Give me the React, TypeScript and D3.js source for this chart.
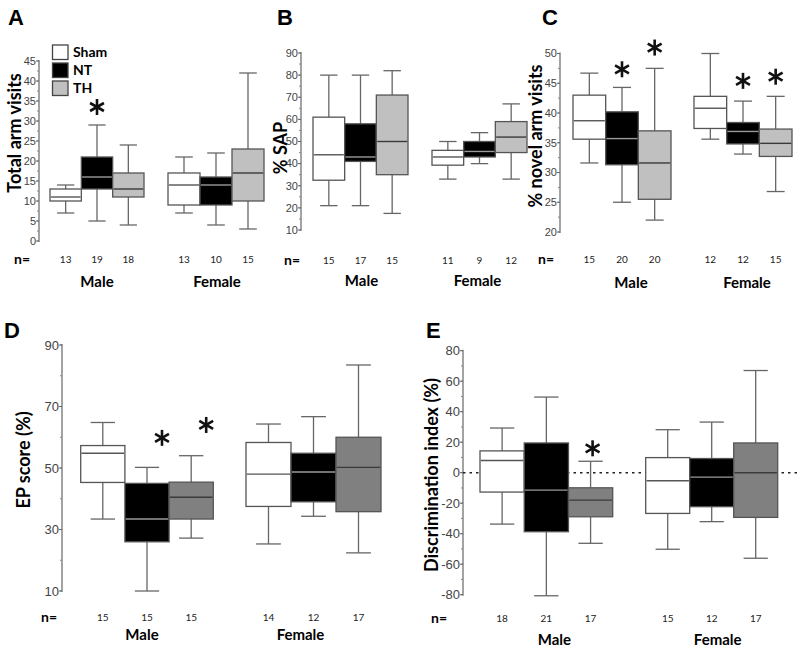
import React from "react";
import * as d3 from "d3";

// ---------- DATA ----------
const conditions = ["Sham", "NT", "TH"];
const sexes = ["Male", "Female"];

// Each row: [low whisker, Q1, median, Q3, high whisker]
// order: Male Sham, Male NT, Male TH, Female Sham, Female NT, Female TH
const armVisits = [
  [7, 10, 11, 13, 14],
  [5, 13, 16, 21, 29],
  [4, 11, 13, 17, 24],
  [7, 9, 14, 17, 21],
  [4, 9, 14, 16, 22],
  [3, 10, 17, 23, 42],
];
const armVisitsN = [13, 19, 18, 13, 10, 15];

const sap = [
  [21, 32.5, 44, 61, 80],
  [21, 41, 43, 58, 80],
  [17.5, 35, 50, 71, 82],
  [33, 39.3, 43, 46, 50],
  [40, 43, 45.5, 50, 54],
  [33, 45, 52, 59, 67],
];
const sapN = [15, 17, 15, 11, 9, 12];

const novel = [
  [31.6, 35.6, 38.7, 43, 46.7],
  [25, 31.3, 35.7, 40.2, 44.3],
  [22, 25.5, 31.6, 37, 47.5],
  [35.6, 37.4, 40.8, 42.8, 50],
  [33.1, 34.8, 36.9, 38.4, 42],
  [26.8, 32.7, 34.9, 37.3, 42.8],
];
const novelN = [15, 20, 20, 12, 12, 15];

const epScore = [
  [33.4, 45.3, 54.8, 57.3, 64.8],
  [10, 26, 33.4, 45, 50.2],
  [27.2, 33.4, 40.5, 45.4, 54],
  [25.3, 37.5, 48, 58.3, 64.3],
  [34.3, 39, 48.7, 54.8, 66.7],
  [22.4, 35.8, 50.2, 60, 83.5],
];
const epScoreN = [15, 15, 15, 14, 12, 17];

const discrimination = [
  [-33.7, -12.7, 8, 14.3, 29.3],
  [-80.7, -38.7, -11.4, 19.5, 49.6],
  [-46.3, -28.9, -18, -9.9, 7.5],
  [-50.2, -26.7, -5.3, 9.9, 28.2],
  [-32.1, -22.3, -2.9, 9.3, 33.2],
  [-56.1, -29.3, 0, 19.5, 67],
];
const discriminationN = [18, 21, 17, 15, 12, 17];

// significance stars: box index and value (data units) where the star sits
const armStars = [{ box: 1, value: 33.5 }];
const sapStars: { box: number; value: number }[] = [];
const novelStars = [
  { box: 1, value: 47.35 },
  { box: 2, value: 51 },
  { box: 4, value: 45.4 },
  { box: 5, value: 46.1 },
];
const epStars = [
  { box: 1, value: 59.8 },
  { box: 2, value: 64 },
];
const discStars = [{ box: 2, value: 16 }];

// ---------- LAYOUT ----------
const panels = [
  {
    letter: "A", letterX: 8, letterY: 25,
    stats: armVisits, n: armVisitsN, stars: armStars, starDx: [0, 0],
    domain: [0, 45], yRange: [241, 61], tickStep: 5, minorStep: 2.5,
    axisX: 39, groupX: [[50, 144], [168, 264]],
    tickSize: 11, thFill: "#c0c0c0",
    ylabel: "Total arm visits", ylabelX: 14, ylabelY: 133, ylabelSize: 18,
    nX: 22, nY: 259, sexY: 287, sexDx: [0, 1],
    zeroLine: false,
  },
  {
    letter: "B", letterX: 277, letterY: 25,
    stats: sap, n: sapN, stars: sapStars, starDx: [0, 0],
    domain: [10, 90], yRange: [230, 53], tickStep: 10, minorStep: 5,
    axisX: 301, groupX: [[313, 408], [432, 527]],
    tickSize: 11, thFill: "#c0c0c0",
    ylabel: "% SAP", ylabelX: 280, ylabelY: 148, ylabelSize: 18,
    nX: 292, nY: 260, sexY: 286, sexDx: [1, -2],
    zeroLine: false,
  },
  {
    letter: "C", letterX: 542, letterY: 25,
    stats: novel, n: novelN, stars: novelStars, starDx: [0, 0],
    domain: [20, 50], yRange: [232, 53.5], tickStep: 5, minorStep: 2.5,
    axisX: 560, groupX: [[573, 671], [694, 792]],
    tickSize: 11, thFill: "#c0c0c0",
    ylabel: "% novel arm visits", ylabelX: 535, ylabelY: 136, ylabelSize: 18,
    nX: 546, nY: 259, sexY: 288, sexDx: [9, 4],
    zeroLine: false,
  },
  {
    letter: "D", letterX: 4, letterY: 338,
    stats: epScore, n: epScoreN, stars: epStars, starDx: [15, 14],
    domain: [10, 90], yRange: [591, 345], tickStep: 20, minorStep: 10,
    axisX: 62, groupX: [[80.7, 213.3], [246, 381]],
    tickSize: 13, thFill: "#808080",
    ylabel: "EP score (%)", ylabelX: 23, ylabelY: 460, ylabelSize: 18,
    nX: 49, nY: 617, sexY: 640, sexDx: [-5, -13],
    zeroLine: false,
  },
  {
    letter: "E", letterX: 426, letterY: 338,
    stats: discrimination, n: discriminationN, stars: discStars, starDx: [2, 2],
    domain: [-80, 80], yRange: [594.7, 350.7], tickStep: 20, minorStep: 10,
    axisX: 463, groupX: [[480, 612.7], [645.7, 777.7]],
    tickSize: 13, thFill: "#808080",
    ylabel: "Discrimination index (%)", ylabelX: 431, ylabelY: 475, ylabelSize: 18,
    nX: 439, nY: 618, sexY: 645, sexDx: [8, 6],
    zeroLine: true,
  },
];

const BOLD = "Lato, 'Open Sans', sans-serif";
const ARIAL = "'Liberation Sans', Arial, sans-serif";

function Star({ x, y }: { x: number; y: number }) {
  const r = 8;
  const angles = [90, 30, -30];
  return (
    <g>
      {angles.map((a) => {
        const rad = (a * Math.PI) / 180;
        return (
          <line
            key={a}
            x1={x - r * Math.cos(rad)}
            y1={y - r * Math.sin(rad)}
            x2={x + r * Math.cos(rad)}
            y2={y + r * Math.sin(rad)}
            stroke="#111"
            strokeWidth={2.6}
          />
        );
      })}
    </g>
  );
}

function Panel({ cfg }: { cfg: any }) {
  const y = d3.scaleLinear().domain(cfg.domain).range(cfg.yRange);
  const ticks = d3.range(cfg.domain[0], cfg.domain[1] + 0.001, cfg.tickStep);
  const minors = d3.range(cfg.domain[0], cfg.domain[1] + 0.001, cfg.minorStep);
  const bands = cfg.groupX.map((r: number[]) =>
    d3.scaleBand().domain(conditions).range(r as [number, number]).padding(0)
  );
  const fills = ["#ffffff", "#000000", cfg.thFill];
  const medColors = ["#555", "#9a9a9a", "#3a3a3a"];
  const boxes = cfg.stats.map((s: number[], i: number) => {
    const g = Math.floor(i / 3);
    const c = i % 3;
    const b = bands[g];
    return { x: b(conditions[c]) as number, w: b.bandwidth(), s, c, g };
  });
  const groupCenter = (g: number) => (cfg.groupX[g][0] + cfg.groupX[g][1]) / 2;
  const [rTop, rBot] = [cfg.yRange[1], cfg.yRange[0]];

  return (
    <g>
      <text x={cfg.letterX} y={cfg.letterY} fontFamily={ARIAL} fontWeight="bold" fontSize={22} fill="#000">
        {cfg.letter}
      </text>
      {/* axis */}
      <line x1={cfg.axisX} x2={cfg.axisX} y1={rTop - 1} y2={rBot + 1} stroke="#666" strokeWidth={1.2} />
      {minors.map((t: number) => (
        <line key={"m" + t} x1={cfg.axisX - 2} x2={cfg.axisX} y1={y(t)} y2={y(t)} stroke="#888" strokeWidth={1} />
      ))}
      {ticks.map((t: number) => (
        <g key={"t" + t}>
          <line x1={cfg.axisX - 3} x2={cfg.axisX} y1={y(t)} y2={y(t)} stroke="#666" strokeWidth={1} />
          <text
            x={cfg.axisX - 3}
            y={y(t)}
            dy="0.35em"
            textAnchor="end"
            fontFamily={ARIAL}
            fontSize={cfg.tickSize}
            fill="#444"
          >
            {t}
          </text>
        </g>
      ))}
      <text
        transform={`translate(${cfg.ylabelX},${cfg.ylabelY}) rotate(-90)`}
        textAnchor="middle"
        dominantBaseline="central"
        fontFamily={BOLD}
        fontWeight="bold"
        fontSize={cfg.ylabelSize}
        fill="#000"
      >
        {cfg.ylabel}
      </text>
      {cfg.zeroLine && (
        <line
          x1={cfg.axisX}
          x2={797}
          y1={y(0)}
          y2={y(0)}
          stroke="#222"
          strokeWidth={1.6}
          strokeDasharray="2.5,4"
        />
      )}
      {/* whiskers */}
      {boxes.map((b: any, i: number) => {
        const cx = b.x + b.w / 2;
        const cw = b.w * 0.55;
        return (
          <g key={"w" + i} stroke="#666" strokeWidth={1.3}>
            <line x1={cx} x2={cx} y1={y(b.s[0])} y2={y(b.s[1])} />
            <line x1={cx} x2={cx} y1={y(b.s[3])} y2={y(b.s[4])} />
            <line x1={cx - cw / 2} x2={cx + cw / 2} y1={y(b.s[0])} y2={y(b.s[0])} />
            <line x1={cx - cw / 2} x2={cx + cw / 2} y1={y(b.s[4])} y2={y(b.s[4])} />
          </g>
        );
      })}
      {/* boxes */}
      {boxes.map((b: any, i: number) => (
        <g key={"b" + i}>
          <rect
            x={b.x}
            y={y(b.s[3])}
            width={b.w}
            height={y(b.s[1]) - y(b.s[3])}
            fill={fills[b.c]}
            stroke="#555"
            strokeWidth={1.3}
          />
          <line
            x1={b.x + 0.8}
            x2={b.x + b.w - 0.8}
            y1={y(b.s[2])}
            y2={y(b.s[2])}
            stroke={medColors[b.c]}
            strokeWidth={1.4}
          />
        </g>
      ))}
      {/* stars */}
      {cfg.stars.map((st: any, i: number) => {
        const b = boxes[st.box];
        return <Star key={"s" + i} x={b.x + b.w / 2 + cfg.starDx[b.g]} y={y(st.value)} />;
      })}
      {/* n row */}
      <text x={cfg.nX} y={cfg.nY} dy="0.35em" textAnchor="middle" fontFamily={BOLD} fontWeight="bold" fontSize={14} fill="#000">
        n=
      </text>
      {boxes.map((b: any, i: number) => (
        <text
          key={"n" + i}
          x={b.x + b.w / 2}
          y={cfg.nY}
          dy="0.35em"
          textAnchor="middle"
          fontFamily={BOLD}
          fontSize={10}
          fill="#222"
        >
          {cfg.n[i]}
        </text>
      ))}
      {sexes.map((s, g) => (
        <text
          key={s}
          x={groupCenter(g) + cfg.sexDx[g]}
          y={cfg.sexY}
          textAnchor="middle"
          fontFamily={BOLD}
          fontWeight="bold"
          fontSize={15}
          fill="#000"
        >
          {s}
        </text>
      ))}
    </g>
  );
}

function Legend() {
  const fills = ["#ffffff", "#000000", "#c0c0c0"];
  return (
    <g>
      {conditions.map((c, i) => (
        <g key={c}>
          <rect x={52.5} y={45 + i * 18} width={15.5} height={14.5} fill={fills[i]} stroke="#444" strokeWidth={1.3} />
          <text x={73} y={52.5 + i * 18} dy="0.35em" fontFamily={BOLD} fontWeight="bold" fontSize={14} fill="#000">
            {c}
          </text>
        </g>
      ))}
    </g>
  );
}

export default function App() {
  return (
    <svg
      width={800}
      height={655}
      viewBox="0 0 800 655"
      style={{ position: "absolute", left: 0, top: 0, background: "#fff" }}
    >
      <rect x={0} y={0} width={800} height={655} fill="#fff" />
      {panels.map((p) => (
        <Panel key={p.letter} cfg={p} />
      ))}
      <Legend />
    </svg>
  );
}
